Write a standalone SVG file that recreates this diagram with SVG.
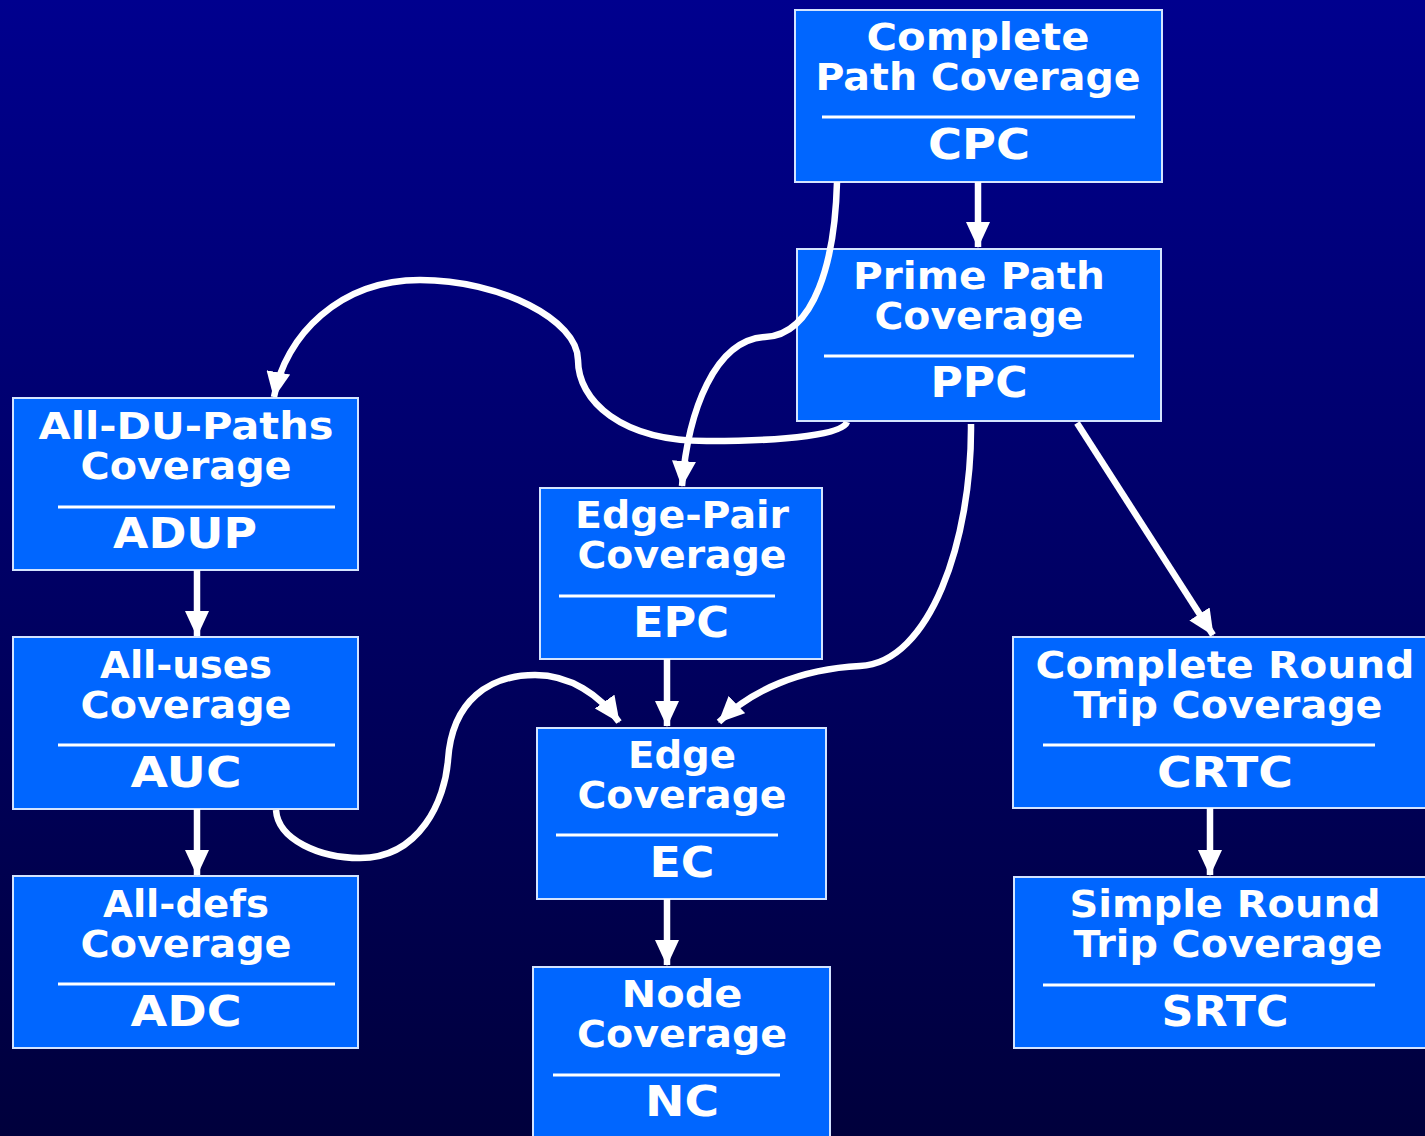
<svg xmlns="http://www.w3.org/2000/svg" width="1425" height="1136" viewBox="0 0 1425 1136">
  <defs>
    <linearGradient id="bg" x1="0" y1="0" x2="0" y2="1">
      <stop offset="0" stop-color="#00008e"/>
      <stop offset="1" stop-color="#00003c"/>
    </linearGradient>
    <marker id="head" viewBox="0 0 26 24" refX="25" refY="12" markerWidth="26" markerHeight="24" markerUnits="userSpaceOnUse" orient="auto">
      <path d="M0,0 L26,12 L0,24 Z" fill="#ffffff"/>
    </marker>
    <style>
      .box { fill: #0066ff; stroke: #d4e4ff; stroke-width: 2; }
      .sep { stroke: #ffffff; stroke-width: 3; }
      .t { font-family: "DejaVu Sans", "Liberation Sans", sans-serif; font-weight: bold; fill: #ffffff; text-anchor: middle; }
      .name { font-size: 37px; }
      .code { font-size: 43px; }
      .edge { fill: none; stroke: #ffffff; stroke-width: 6.5; marker-end: url(#head); }
    </style>
  </defs>

  <rect x="0" y="0" width="1425" height="1136" fill="url(#bg)"/>

  <g id="cpc">
    <rect class="box" x="795" y="10" width="367" height="172"/>
    <text class="t name" x="978" y="50" textLength="223" lengthAdjust="spacingAndGlyphs">Complete</text>
    <text class="t name" x="978" y="90" textLength="325" lengthAdjust="spacingAndGlyphs">Path Coverage</text>
    <line class="sep" x1="822" y1="117" x2="1135" y2="117"/>
    <text class="t code" x="979" y="159" textLength="102" lengthAdjust="spacingAndGlyphs">CPC</text>
  </g>

  <g id="ppc">
    <rect class="box" x="797" y="249" width="364" height="172"/>
    <text class="t name" x="979" y="289" textLength="252" lengthAdjust="spacingAndGlyphs">Prime Path</text>
    <text class="t name" x="979" y="329" textLength="209" lengthAdjust="spacingAndGlyphs">Coverage</text>
    <line class="sep" x1="824" y1="356" x2="1134" y2="356"/>
    <text class="t code" x="979" y="397" textLength="97" lengthAdjust="spacingAndGlyphs">PPC</text>
  </g>

  <g id="adup">
    <rect class="box" x="13" y="398" width="345" height="172"/>
    <text class="t name" x="186" y="439" textLength="295" lengthAdjust="spacingAndGlyphs">All-DU-Paths</text>
    <text class="t name" x="186" y="479" textLength="211" lengthAdjust="spacingAndGlyphs">Coverage</text>
    <line class="sep" x1="58" y1="507" x2="335" y2="507"/>
    <text class="t code" x="185" y="548" textLength="144" lengthAdjust="spacingAndGlyphs">ADUP</text>
  </g>

  <g id="auc">
    <rect class="box" x="13" y="637" width="345" height="172"/>
    <text class="t name" x="186" y="678" textLength="172" lengthAdjust="spacingAndGlyphs">All-uses</text>
    <text class="t name" x="186" y="718" textLength="211" lengthAdjust="spacingAndGlyphs">Coverage</text>
    <line class="sep" x1="58" y1="745" x2="335" y2="745"/>
    <text class="t code" x="186" y="787" textLength="111" lengthAdjust="spacingAndGlyphs">AUC</text>
  </g>

  <g id="adc">
    <rect class="box" x="13" y="876" width="345" height="172"/>
    <text class="t name" x="186" y="917" textLength="166" lengthAdjust="spacingAndGlyphs">All-defs</text>
    <text class="t name" x="186" y="957" textLength="211" lengthAdjust="spacingAndGlyphs">Coverage</text>
    <line class="sep" x1="58" y1="984" x2="335" y2="984"/>
    <text class="t code" x="186" y="1026" textLength="111" lengthAdjust="spacingAndGlyphs">ADC</text>
  </g>

  <g id="epc">
    <rect class="box" x="540" y="488" width="282" height="171"/>
    <text class="t name" x="682" y="528" textLength="214" lengthAdjust="spacingAndGlyphs">Edge-Pair</text>
    <text class="t name" x="682" y="568" textLength="209" lengthAdjust="spacingAndGlyphs">Coverage</text>
    <line class="sep" x1="559" y1="596" x2="775" y2="596"/>
    <text class="t code" x="681" y="637" textLength="96" lengthAdjust="spacingAndGlyphs">EPC</text>
  </g>

  <g id="ec">
    <rect class="box" x="537" y="728" width="289" height="171"/>
    <text class="t name" x="682" y="768" textLength="108" lengthAdjust="spacingAndGlyphs">Edge</text>
    <text class="t name" x="682" y="808" textLength="209" lengthAdjust="spacingAndGlyphs">Coverage</text>
    <line class="sep" x1="556" y1="835" x2="778" y2="835"/>
    <text class="t code" x="682" y="877" textLength="65" lengthAdjust="spacingAndGlyphs">EC</text>
  </g>

  <g id="nc">
    <rect class="box" x="533" y="967" width="297" height="180"/>
    <text class="t name" x="682" y="1007" textLength="121" lengthAdjust="spacingAndGlyphs">Node</text>
    <text class="t name" x="682" y="1047" textLength="210" lengthAdjust="spacingAndGlyphs">Coverage</text>
    <line class="sep" x1="553" y1="1075" x2="780" y2="1075"/>
    <text class="t code" x="682" y="1116" textLength="74" lengthAdjust="spacingAndGlyphs">NC</text>
  </g>

  <g id="crtc">
    <rect class="box" x="1013" y="637" width="420" height="171"/>
    <text class="t name" x="1225" y="678" textLength="379" lengthAdjust="spacingAndGlyphs">Complete Round</text>
    <text class="t name" x="1228" y="718" textLength="309" lengthAdjust="spacingAndGlyphs">Trip Coverage</text>
    <line class="sep" x1="1043" y1="745" x2="1375" y2="745"/>
    <text class="t code" x="1225" y="787" textLength="136" lengthAdjust="spacingAndGlyphs">CRTC</text>
  </g>

  <g id="srtc">
    <rect class="box" x="1014" y="877" width="420" height="171"/>
    <text class="t name" x="1225" y="917" textLength="311" lengthAdjust="spacingAndGlyphs">Simple Round</text>
    <text class="t name" x="1228" y="957" textLength="309" lengthAdjust="spacingAndGlyphs">Trip Coverage</text>
    <line class="sep" x1="1043" y1="985" x2="1375" y2="985"/>
    <text class="t code" x="1225" y="1026" textLength="127" lengthAdjust="spacingAndGlyphs">SRTC</text>
  </g>

  <!-- connectors sit above the boxes so the CPC curve crosses the PPC box -->
  <g id="connectors">
    <path class="edge" d="M978 182 L978 247"/>
    <path class="edge" d="M197 570 L197 636"/>
    <path class="edge" d="M197 809 L197 875"/>
    <path class="edge" d="M667 659 L667 726"/>
    <path class="edge" d="M667 899 L667 965"/>
    <path class="edge" d="M1210 808 L1210 875"/>
    <path class="edge" d="M1077 423 L1213 635"/>
    <path class="edge" d="M837 182 C835 260 815 335 765 337 C715 340 688 410 682 486"/>
    <path class="edge" d="M847 422 C843 434 790 441 710 441 C620 442 578 400 578 360 C578 320 500 280 420 280 C340 280 285 335 274 397"/>
    <path class="edge" d="M971 424 C972 540 930 663 860 666 C800 669 752 690 719 722"/>
    <path class="edge" d="M276 810 C278 840 320 858 360 858 C420 858 445 800 448 760 C452 700 490 675 535 675 C570 675 600 695 619 722"/>
  </g>
</svg>
